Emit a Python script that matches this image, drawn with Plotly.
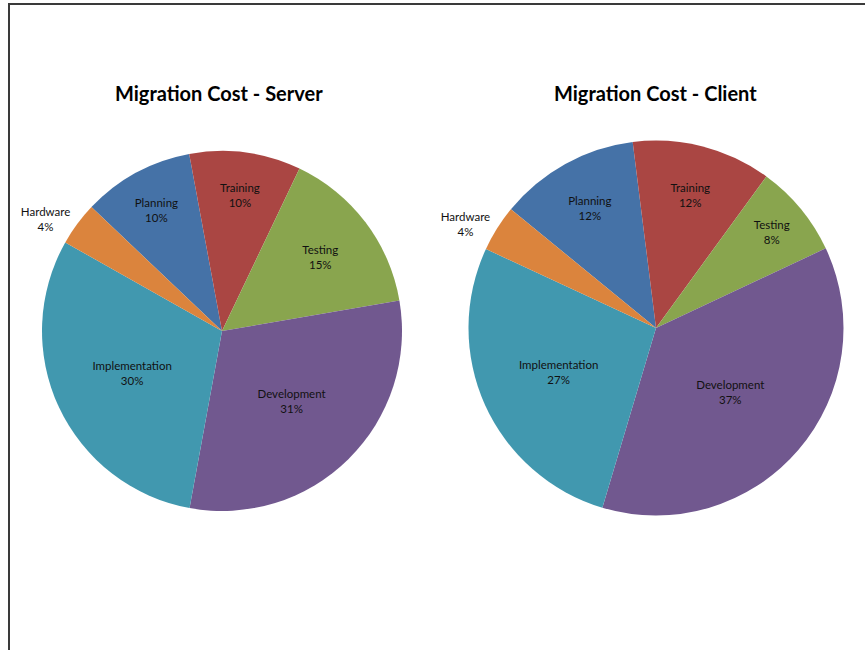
import plotly.graph_objects as go

categories = ["Planning", "Training", "Testing", "Development", "Implementation", "Hardware"]
server_values = [10.0, 10.0, 15.2, 30.6, 30.3, 3.9]
client_values = [12.1, 12.0, 8.0, 36.6, 27.3, 4.0]
colors = ["#4572A7", "#AA4643", "#89A54E", "#71588F", "#4198AF", "#DB843D"]
positions = ["inside", "inside", "inside", "inside", "inside", "outside"]

W, H = 865, 650

def dom(x0, x1, ytop, ybot):
    return dict(x=[x0 / W, x1 / W], y=[1 - ybot / H, 1 - ytop / H])

def pie(values, rotation, domain):
    return go.Pie(
        labels=categories, values=values, sort=False, direction="clockwise",
        rotation=rotation, marker=dict(colors=colors, line=dict(width=0)),
        texttemplate="%{label}<br>%{percent:.0%}", textposition=positions,
        insidetextorientation="horizontal",
        textfont=dict(family="Lato, sans-serif", size=11.5, color="#111111"),
        domain=domain, showlegend=False, hoverinfo="label+percent", automargin=False,
    )

fig = go.Figure()
fig.add_trace(pie(server_values, -46.5, dom(42, 402, 151, 511)))
fig.add_trace(pie(client_values, -50.7, dom(468.5, 843.5, 140.5, 515.5)))

fig.update_layout(
    width=W, height=H, margin=dict(l=0, r=0, t=0, b=0, autoexpand=False),
    paper_bgcolor="white", plot_bgcolor="white",
    font=dict(family="Lato, sans-serif"),
    annotations=[
        dict(text="<b>Migration Cost - Server</b>", x=219 / W, y=1 - 93 / H, xref="paper", yref="paper",
             showarrow=False, font=dict(size=20, color="black"), xanchor="center", yanchor="middle"),
        dict(text="<b>Migration Cost - Client</b>", x=655 / W, y=1 - 93 / H, xref="paper", yref="paper",
             showarrow=False, font=dict(size=20, color="black"), xanchor="center", yanchor="middle"),
    ],
    shapes=[dict(type="rect", xref="paper", yref="paper", x0=9 / W, x1=1.05, y0=-0.05, y1=1 - 4 / H,
                 line=dict(color="#3a3a3a", width=2), fillcolor="rgba(0,0,0,0)")],
)

fig.write_html("out.html", config={"displayModeBar": False},
               post_script="document.body.style.margin='0';document.body.style.overflow='hidden';")
